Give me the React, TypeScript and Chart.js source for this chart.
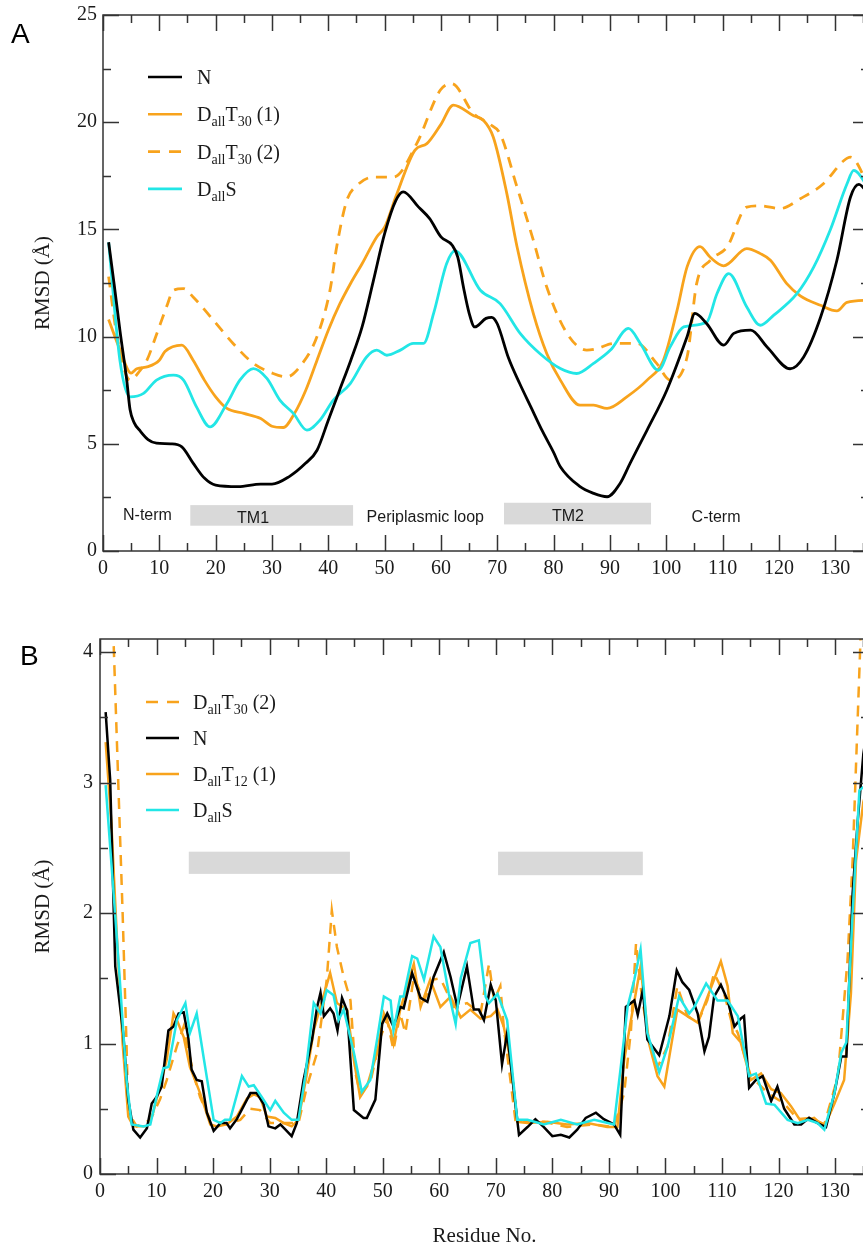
import React, { useEffect, useRef } from 'react';
import { Chart, registerables } from 'chart.js';

Chart.register(...registerables);

// ---------------- Panel A data (residue, RMSD in Å) ----------------
const A_N_RES = [1, 2, 3, 4.2, 4.8, 5.5, 6.6, 8, 9.5, 12, 14, 16, 18, 20, 24, 28, 30, 33, 36, 38, 40, 42, 44, 46, 48, 50, 52, 53.3, 56, 58, 60, 62, 63, 64, 65, 66, 68, 69, 70, 72, 74, 76, 78, 80, 81.2, 84.7, 87, 89.5, 91.8, 93.6, 96.6, 100.1, 103.7, 105.1, 107.2, 110.2, 112, 115, 117.9, 122, 124.4, 127.4, 130.3, 132.7, 134.2, 136];
const A_N_VAL = [14.4, 12.4, 10.3, 8.0, 6.6, 6.0, 5.6, 5.2, 5.03, 5.0, 4.86, 4.1, 3.4, 3.07, 3.0, 3.12, 3.12, 3.46, 4.1, 4.7, 6.1, 7.5, 8.9, 10.45, 12.6, 14.8, 16.35, 16.75, 16.05, 15.5, 14.65, 14.26, 13.7, 12.3, 11.1, 10.45, 10.85, 10.9, 10.6, 9.0, 7.8, 6.7, 5.6, 4.6, 3.93, 3.0, 2.7, 2.53, 3.15, 4.1, 5.64, 7.5, 9.99, 11.08, 10.6, 9.6, 10.15, 10.3, 9.52, 8.5, 9.05, 10.9, 13.56, 16.5, 17.1, 16.6];

const A_T30A_RES = [1, 3, 5, 6, 8, 10, 11, 14, 16, 18, 20, 22, 25, 28, 30, 32, 34, 36, 38, 40, 42, 44, 46, 48.6, 50, 52.1, 55.4, 57.5, 60, 62.2, 65.8, 67.5, 69.3, 71.7, 73.5, 76.4, 78.8, 81.2, 84.7, 87.1, 89.5, 93, 96.6, 99.5, 101.9, 103.7, 106, 107.8, 110.2, 114.3, 116.7, 118.5, 121.4, 123.8, 127.4, 130.3, 132.1, 136];
const A_T30A_VAL = [10.8, 9.4, 8.3, 8.5, 8.6, 8.9, 9.3, 9.6, 8.9, 7.97, 7.19, 6.65, 6.42, 6.18, 5.82, 5.76, 6.42, 7.5, 8.9, 10.3, 11.5, 12.5, 13.4, 14.65, 15.1, 16.6, 18.7, 19.0, 19.9, 20.8, 20.3, 20.1, 19.3, 16.67, 14.2, 11.08, 9.2, 7.97, 6.8, 6.8, 6.65, 7.19, 7.97, 8.9, 11.2, 13.25, 14.2, 13.7, 13.3, 14.1, 13.87, 13.56, 12.47, 11.9, 11.46, 11.2, 11.6, 11.7];

const A_T30B_RES = [1, 2.5, 4.8, 6.6, 7.8, 9.5, 11.3, 12.5, 14.3, 16, 19.6, 23.1, 26.7, 30.2, 32.6, 35.6, 38, 40.3, 41.5, 43.3, 45.1, 48, 51.6, 55.7, 59.9, 61.9, 65.8, 68.7, 70.5, 73.5, 76.4, 78.8, 82.4, 85.9, 87.7, 90.6, 94.8, 98.3, 100.7, 103.7, 105.4, 107.8, 110.8, 114.3, 116.7, 120.2, 123.8, 127.9, 131.5, 132.7, 136];
const A_T30B_VAL = [12.8, 10.0, 7.97, 8.43, 8.9, 10.1, 11.4, 12.16, 12.24, 11.85, 10.76, 9.68, 8.75, 8.28, 8.12, 8.82, 10.0, 12.16, 14.2, 16.36, 17.05, 17.44, 17.44, 19.0, 21.5, 21.8, 20.4, 19.9, 19.46, 16.98, 14.5, 12.3, 10.14, 9.37, 9.44, 9.68, 9.68, 8.75, 7.97, 9.05, 12.47, 13.56, 14.18, 16.04, 16.1, 15.97, 16.43, 17.13, 18.2, 18.37, 17.0];

const A_S_RES = [1, 3, 4.8, 7.2, 9.5, 12.5, 14.3, 16.6, 19, 22, 24.3, 26.7, 29.1, 31.4, 33.8, 36.2, 38.5, 40.9, 43.9, 46.8, 48.6, 50.4, 52.8, 55.1, 56.9, 58.7, 61, 62.5, 67, 70.5, 74.1, 77.6, 81.2, 84.1, 87.1, 90.1, 93.3, 95.4, 98.6, 100.7, 103.1, 107.2, 109, 111.1, 114.3, 116.7, 119.1, 123.2, 126.2, 129.1, 132.1, 133.3, 136];
const A_S_VAL = [14.4, 8.9, 7.19, 7.35, 7.97, 8.2, 7.97, 6.72, 5.79, 6.88, 7.97, 8.51, 8.05, 7.04, 6.42, 5.64, 6.1, 7.04, 7.81, 9.05, 9.37, 9.13, 9.37, 9.68, 9.68, 11.08, 13.4, 14.0, 12.16, 11.54, 10.14, 9.2, 8.51, 8.28, 8.75, 9.37, 10.38, 9.68, 8.43, 9.52, 10.45, 10.68, 12.0, 12.94, 11.38, 10.53, 11.0, 12.0, 13.25, 14.96, 17.13, 17.75, 16.9];

// ---------------- Panel B data ----------------
const B_N_RES = [1, 1.8, 2.7, 4.1, 5, 5.9, 7.1, 8.3, 9.15, 10, 10.9, 12.1, 13, 13.9, 14.8, 15.6, 16.2, 17.1, 18, 18.9, 20.1, 21.3, 22.4, 23, 24.2, 25.4, 26.6, 27.7, 28.9, 29.8, 31, 31.9, 32.8, 33.9, 34.8, 36, 37.5, 38.4, 39, 39.6, 40.7, 41.3, 42, 42.8, 43.7, 44.9, 46.6, 47.2, 48.7, 49.9, 50.8, 51.9, 53.1, 53.7, 55.2, 56.7, 57.9, 59, 60.8, 62, 63.2, 64.9, 66.1, 67, 67.9, 69.1, 70, 71.1, 72, 74.1, 75.6, 77, 78.5, 80, 81.5, 83, 84.4, 85.9, 87.7, 89.1, 90.9, 92, 93, 94.5, 95.1, 96, 96.8, 98.9, 100.7, 102, 103, 104.2, 105.7, 106.9, 107.7, 108.6, 109.8, 111, 112.2, 113.3, 113.9, 114.8, 116, 117.2, 118.7, 119.8, 121, 122.8, 124, 125.4, 126.9, 128.4, 129.9, 131.1, 132, 133.1, 134, 135, 136];
const B_N_VAL = [3.54, 3.02, 1.59, 1.08, 0.57, 0.34, 0.28, 0.35, 0.54, 0.59, 0.67, 1.1, 1.13, 1.23, 1.24, 1.05, 0.8, 0.72, 0.71, 0.47, 0.33, 0.39, 0.39, 0.35, 0.42, 0.52, 0.62, 0.62, 0.54, 0.365, 0.35, 0.38, 0.34, 0.29, 0.39, 0.72, 1.03, 1.28, 1.39, 1.21, 1.27, 1.23, 1.1, 1.35, 1.25, 0.49, 0.43, 0.43, 0.57, 1.15, 1.23, 1.13, 1.28, 1.27, 1.54, 1.35, 1.32, 1.51, 1.7, 1.51, 1.28, 1.59, 1.26, 1.26, 1.18, 1.45, 1.33, 0.84, 1.08, 0.3, 0.36, 0.42, 0.36, 0.29, 0.3, 0.28, 0.34, 0.43, 0.47, 0.42, 0.38, 0.3, 1.28, 1.33, 1.22, 1.41, 1.03, 0.91, 1.21, 1.56, 1.47, 1.41, 1.23, 0.94, 1.05, 1.36, 1.45, 1.33, 1.13, 1.19, 1.21, 0.66, 0.72, 0.75, 0.56, 0.67, 0.5, 0.38, 0.38, 0.43, 0.39, 0.36, 0.62, 0.9, 0.9, 2.15, 2.7, 3.22, 3.5];

const B_T12_RES = [1, 2, 2.95, 4, 5, 5.9, 8.3, 9.4, 10.9, 11.8, 13, 13.6, 14.8, 15.9, 17.7, 19.5, 20.7, 22.4, 24.2, 26, 27.2, 28.3, 29.5, 31, 32.5, 33.9, 35.1, 36.6, 37.8, 39.3, 40.7, 41.9, 43.7, 44.9, 46, 47.2, 49, 50.2, 51.4, 51.9, 53.1, 55.5, 56.7, 58.4, 60.2, 62, 63.8, 65.5, 67.3, 69.1, 70.3, 71.4, 72.6, 73.8, 75.6, 79.1, 82.6, 86.2, 89.7, 91.5, 92.7, 93.9, 95.6, 97.1, 98.6, 99.8, 101, 102.1, 103.9, 105.7, 107.2, 108.6, 109.8, 111, 111.9, 113.3, 115.1, 116.9, 118.7, 120.4, 122.2, 124, 126.3, 128.1, 129.9, 131.6, 132.8, 133.7, 135, 136];
const B_T12_VAL = [3.31, 2.7, 1.85, 1.0, 0.44, 0.365, 0.365, 0.47, 0.72, 0.875, 1.23, 1.18, 1.05, 0.82, 0.62, 0.38, 0.365, 0.38, 0.44, 0.58, 0.61, 0.59, 0.44, 0.43, 0.39, 0.365, 0.415, 0.77, 1.1, 1.33, 1.54, 1.31, 1.26, 0.875, 0.59, 0.67, 0.93, 1.23, 1.1, 1.0, 1.26, 1.61, 1.28, 1.49, 1.28, 1.36, 1.2, 1.26, 1.19, 1.21, 1.26, 1.13, 0.87, 0.4, 0.39, 0.4, 0.38, 0.39, 0.36, 0.36, 0.87, 1.18, 1.59, 1.0, 0.75, 0.67, 0.98, 1.26, 1.21, 1.16, 1.33, 1.49, 1.63, 1.44, 1.08, 1.01, 0.72, 0.77, 0.65, 0.62, 0.52, 0.4, 0.43, 0.36, 0.54, 0.72, 1.38, 2.4, 2.85, 3.0];

const B_T30_RES = [1, 2, 3, 4, 4.7, 5, 6.5, 8.9, 10.6, 11.8, 13.6, 14.8, 16.5, 17.7, 19.5, 22.4, 24.8, 26.6, 28.3, 30.1, 33, 35.1, 36.6, 38.4, 40.1, 41, 41.9, 43.1, 44.3, 45.2, 46, 47.8, 49.6, 50.8, 51.9, 53.1, 54, 55.5, 57.3, 59, 60.2, 62.6, 64.9, 67.3, 68.8, 69.7, 70.8, 71.4, 73.5, 78.5, 82.6, 87.4, 90.9, 92.7, 93.9, 94.8, 95.6, 96.8, 98.6, 100.4, 102.1, 103.9, 105.7, 107.4, 108.6, 110.4, 111.6, 112.8, 115.1, 118.1, 121, 123.4, 125.8, 128.1, 130.5, 132.2, 133.1, 134.5, 135];
const B_T30_VAL = [5.5, 4.6, 3.3, 2.0, 0.98, 0.47, 0.365, 0.415, 0.57, 0.72, 0.98, 1.13, 0.77, 0.59, 0.415, 0.38, 0.415, 0.5, 0.49, 0.39, 0.39, 0.39, 0.67, 0.93, 1.49, 2.02, 1.74, 1.51, 1.33, 0.77, 0.62, 0.7, 1.05, 1.18, 0.95, 1.23, 1.08, 1.51, 1.33, 1.49, 1.5, 1.28, 1.31, 1.23, 1.61, 1.33, 1.44, 1.13, 0.4, 0.4, 0.36, 0.38, 0.36, 0.62, 1.1, 1.77, 1.44, 1.08, 0.82, 0.98, 1.44, 1.21, 1.16, 1.33, 1.54, 1.38, 1.18, 1.08, 0.75, 0.62, 0.54, 0.42, 0.43, 0.38, 0.75, 1.64, 2.4, 4.1, 4.6];

const B_S_RES = [1, 2.66, 3.5, 4.7, 5.6, 7.7, 8.9, 10, 11.2, 12.1, 13.6, 15.1, 15.9, 17.1, 18.3, 20.1, 21.3, 22.1, 23, 25.1, 26.3, 27.2, 28.6, 30.1, 31, 32.5, 33.9, 35.1, 36.3, 37.8, 39, 40.1, 41.3, 42.2, 43.1, 44.9, 46.3, 47.8, 49, 50.2, 51.4, 51.9, 53.1, 53.7, 55.2, 56.1, 57.3, 59, 60.2, 61.7, 62.9, 63.8, 65.5, 67, 68.2, 68.8, 70.3, 72, 73.8, 75.6, 78.5, 81.5, 84.4, 87.4, 90.9, 92.1, 93.3, 94.5, 95.6, 96.8, 98.9, 100.4, 102.4, 104.2, 105.1, 107.2, 109.2, 111, 112.8, 114.8, 116, 117.8, 119.3, 121.6, 123.4, 125.2, 126.9, 128.1, 129.9, 131.1, 132, 133.1, 134.3, 136];
const B_S_VAL = [2.98, 2.0, 1.49, 0.72, 0.38, 0.365, 0.38, 0.59, 0.81, 0.82, 1.18, 1.31, 1.08, 1.23, 0.9, 0.415, 0.39, 0.415, 0.415, 0.75, 0.67, 0.68, 0.59, 0.49, 0.56, 0.47, 0.415, 0.415, 0.75, 1.31, 1.23, 1.41, 1.37, 1.18, 1.26, 0.93, 0.63, 0.72, 1.03, 1.36, 1.33, 1.1, 1.36, 1.36, 1.67, 1.65, 1.49, 1.82, 1.74, 1.38, 1.15, 1.5, 1.77, 1.79, 1.36, 1.31, 1.38, 1.18, 0.415, 0.415, 0.38, 0.415, 0.38, 0.415, 0.38, 0.82, 1.28, 1.49, 1.72, 1.08, 0.78, 0.98, 1.36, 1.23, 1.28, 1.46, 1.33, 1.33, 1.21, 0.75, 0.77, 0.54, 0.53, 0.415, 0.39, 0.415, 0.39, 0.34, 0.62, 0.93, 1.01, 2.0, 2.94, 3.0];

// ---------------- labels / annotations ----------------
const A_LEGEND = ['N', 'D_{all}T_{30} (1)', 'D_{all}T_{30} (2)', 'D_{all}S'];
const B_LEGEND = ['D_{all}T_{30} (2)', 'N', 'D_{all}T_{12} (1)', 'D_{all}S'];
const A_REGION_TEXT = ['N-term', 'TM1', 'Periplasmic loop', 'TM2', 'C-term'];
const A_REGION_AT = [[3.55, 1.43], [23.8, 1.3], [46.8, 1.33], [79.7, 1.39], [104.5, 1.33]];
const A_BOXES = [[15.5, 44.4, 1.18, 2.14], [71.2, 97.3, 1.24, 2.25]];
const B_BOXES = [[15.7, 44.2, 2.3, 2.47], [70.4, 96.0, 2.29, 2.47]];

const X_MAX = 136;
const SERIF = '"Liberation Serif", "Times New Roman", Times, serif';
const SANS = '"Liberation Sans", Arial, Helvetica, sans-serif';
const BLACK = '#000000';
const ORANGE = '#f8a31c';
const CYAN = '#22e6e6';
const AXIS = '#333333';
const TEXT = '#1a1a1a';
const DASH = [11, 8];

const pts = (r: number[], v: number[]) => r.map((x, i) => ({ x, y: v[i] }));

type Seg = { text: string; sub: boolean };
function parseLabel(s: string): Seg[] {
  const out: Seg[] = [];
  let buf = '';
  let i = 0;
  while (i < s.length) {
    if (s[i] === '_' && s[i + 1] === '{') {
      if (buf) out.push({ text: buf, sub: false });
      buf = '';
      const j = s.indexOf('}', i);
      out.push({ text: s.slice(i + 2, j), sub: true });
      i = j + 1;
    } else {
      buf += s[i];
      i++;
    }
  }
  if (buf) out.push({ text: buf, sub: false });
  return out;
}

function drawRich(ctx: CanvasRenderingContext2D, s: string, x: number, y: number) {
  let cx = x;
  for (const seg of parseLabel(s)) {
    ctx.font = `${seg.sub ? 14 : 20}px ${SERIF}`;
    ctx.fillText(seg.text, cx, seg.sub ? y + 5 : y);
    cx += ctx.measureText(seg.text).width;
  }
}

type DecorCfg = {
  id: string;
  letter: string;
  letterX: number;
  letterY: number;
  legend: string[];
  legendColors: string[];
  legendDash: boolean[];
  lx1: number;
  lx2: number;
  tx: number;
  ly0: number;
  ldy: number;
  boxes: number[][];
  regions: string[];
  regionAt: number[][];
  yMinor: number;
  yMajor: number;
  yMax: number;
};

function makeDecor(cfg: DecorCfg) {
  return {
    id: cfg.id,
    beforeDatasetsDraw(chart: any) {
      const { ctx, scales } = chart;
      const x = scales.x;
      const y = scales.y;
      ctx.save();
      ctx.fillStyle = '#d9d9d9';
      for (const b of cfg.boxes) {
        const x0 = x.getPixelForValue(b[0]);
        const x1 = x.getPixelForValue(b[1]);
        const y0 = y.getPixelForValue(b[3]);
        const y1 = y.getPixelForValue(b[2]);
        ctx.fillRect(x0, y0, x1 - x0, y1 - y0);
      }
      ctx.restore();
    },
    afterDatasetsDraw(chart: any) {
      const { ctx, chartArea: a, scales } = chart;
      const x = scales.x;
      const y = scales.y;
      ctx.save();
      // frame
      ctx.strokeStyle = AXIS;
      ctx.lineWidth = 1.5;
      ctx.strokeRect(a.left, a.top, a.right - a.left, a.bottom - a.top);
      // inward ticks on all four sides
      ctx.beginPath();
      for (let v = 0; v <= X_MAX; v += 5) {
        const px = Math.round(x.getPixelForValue(v)) + 0.5;
        const L = v % 10 === 0 ? 16 : 8;
        ctx.moveTo(px, a.bottom);
        ctx.lineTo(px, a.bottom - L);
        ctx.moveTo(px, a.top);
        ctx.lineTo(px, a.top + L);
      }
      const n = Math.round(cfg.yMax / cfg.yMinor);
      for (let k = 0; k <= n; k++) {
        const v = k * cfg.yMinor;
        const py = Math.round(y.getPixelForValue(v)) + 0.5;
        const major = Math.abs(v / cfg.yMajor - Math.round(v / cfg.yMajor)) < 1e-6;
        const L = major ? 16 : 8;
        ctx.moveTo(a.left, py);
        ctx.lineTo(a.left + L, py);
        ctx.moveTo(a.right, py);
        ctx.lineTo(a.right - L, py);
      }
      ctx.stroke();

      // region labels
      ctx.fillStyle = TEXT;
      ctx.textBaseline = 'alphabetic';
      ctx.textAlign = 'left';
      ctx.font = `16px ${SANS}`;
      cfg.regions.forEach((t, i) => {
        ctx.fillText(t, x.getPixelForValue(cfg.regionAt[i][0]), y.getPixelForValue(cfg.regionAt[i][1]));
      });

      // legend
      cfg.legend.forEach((lab, i) => {
        const ly = cfg.ly0 + i * cfg.ldy;
        ctx.beginPath();
        ctx.strokeStyle = cfg.legendColors[i];
        ctx.lineWidth = 2.6;
        ctx.setLineDash(cfg.legendDash[i] ? [12, 9] : []);
        ctx.moveTo(cfg.lx1, ly);
        ctx.lineTo(cfg.lx2, ly);
        ctx.stroke();
        ctx.setLineDash([]);
        ctx.fillStyle = TEXT;
        drawRich(ctx, lab, cfg.tx, ly + 7);
      });

      // panel letter
      ctx.font = `28px ${SANS}`;
      ctx.fillStyle = '#000';
      ctx.fillText(cfg.letter, cfg.letterX, cfg.letterY);
      ctx.restore();
    },
  };
}

function lineDs(label: string, data: any[], color: string, dashed: boolean, width: number, order: number, smooth: boolean) {
  return {
    label,
    data,
    borderColor: color,
    backgroundColor: color,
    borderWidth: width,
    borderDash: dashed ? DASH : [],
    pointRadius: 0,
    fill: false,
    tension: smooth ? 0.4 : 0,
    cubicInterpolationMode: smooth ? 'monotone' : 'default',
    order,
    clip: 0,
  };
}

const tickEvery = (step: number) => (v: any) => {
  const n = Number(v);
  return Math.abs(n / step - Math.round(n / step)) < 1e-6 ? String(Math.round(n * 100) / 100) : '';
};

function axisCommon(yStep: number, yMax: number, yWidth: number, yPad: number, titlePad: number, xHeight: number, xTitle: boolean) {
  return {
    x: {
      type: 'linear',
      min: 0,
      max: X_MAX,
      bounds: 'data',
      grid: { display: false, drawTicks: false },
      border: { display: false },
      ticks: {
        stepSize: 10,
        includeBounds: false,
        padding: 6,
        color: TEXT,
        font: { family: SERIF, size: 20 },
        maxRotation: 0,
        autoSkip: false,
        callback: tickEvery(10),
      },
      title: xTitle
        ? { display: true, text: 'Residue No.', color: TEXT, font: { family: SERIF, size: 21 }, padding: { top: 0, bottom: 1 } }
        : { display: false },
      afterFit: (s: any) => {
        s.height = xHeight;
        s.paddingLeft = 0;
        s.paddingRight = 0;
      },
    },
    y: {
      type: 'linear',
      min: 0,
      max: yMax,
      bounds: 'data',
      grid: { display: false, drawTicks: false },
      border: { display: false },
      ticks: {
        stepSize: yStep,
        includeBounds: false,
        padding: yPad,
        color: TEXT,
        font: { family: SERIF, size: 20 },
        autoSkip: false,
        callback: tickEvery(yStep),
      },
      title: { display: true, text: 'RMSD (Å)', color: TEXT, font: { family: SERIF, size: 21 }, padding: { top: titlePad, bottom: 0 } },
      afterFit: (s: any) => {
        s.width = yWidth;
        s.paddingTop = 0;
        s.paddingBottom = 0;
      },
    },
  };
}

function configA(): any {
  return {
    type: 'line',
    data: {
      datasets: [
        lineDs('N', pts(A_N_RES, A_N_VAL), BLACK, false, 2.8, 0, true),
        lineDs('DallT30(1)', pts(A_T30A_RES, A_T30A_VAL), ORANGE, false, 2.8, 2, true),
        lineDs('DallT30(2)', pts(A_T30B_RES, A_T30B_VAL), ORANGE, true, 2.8, 3, true),
        lineDs('DallS', pts(A_S_RES, A_S_VAL), CYAN, false, 2.8, 1, true),
      ],
    },
    options: {
      animation: false,
      responsive: false,
      devicePixelRatio: 1,
      layout: { padding: { top: 15, right: 11, bottom: 0, left: 0 } },
      plugins: { legend: { display: false }, tooltip: { enabled: false } },
      scales: axisCommon(5, 25, 103, 6, 31, 49, false),
    },
    plugins: [
      makeDecor({
        id: 'decorA',
        letter: 'A',
        letterX: 11,
        letterY: 43,
        legend: A_LEGEND,
        legendColors: [BLACK, ORANGE, ORANGE, CYAN],
        legendDash: [false, false, true, false],
        lx1: 148,
        lx2: 182,
        tx: 197,
        ly0: 77,
        ldy: 37.3,
        boxes: A_BOXES,
        regions: A_REGION_TEXT,
        regionAt: A_REGION_AT,
        yMinor: 2.5,
        yMajor: 5,
        yMax: 25,
      }),
    ],
  };
}

function configB(): any {
  return {
    type: 'line',
    data: {
      datasets: [
        lineDs('DallT30(2)', pts(B_T30_RES, B_T30_VAL), ORANGE, true, 2.5, 3, false),
        lineDs('N', pts(B_N_RES, B_N_VAL), BLACK, false, 2.5, 1, false),
        lineDs('DallT12(1)', pts(B_T12_RES, B_T12_VAL), ORANGE, false, 2.5, 2, false),
        lineDs('DallS', pts(B_S_RES, B_S_VAL), CYAN, false, 2.5, 0, false),
      ],
    },
    options: {
      animation: false,
      responsive: false,
      devicePixelRatio: 1,
      layout: { padding: { top: 39, right: 11, bottom: 0, left: 0 } },
      plugins: { legend: { display: false }, tooltip: { enabled: false } },
      scales: axisCommon(1, 4.1, 100, 7, 31, 76, true),
    },
    plugins: [
      makeDecor({
        id: 'decorB',
        letter: 'B',
        letterX: 20,
        letterY: 65,
        legend: B_LEGEND,
        legendColors: [ORANGE, BLACK, ORANGE, CYAN],
        legendDash: [true, false, false, false],
        lx1: 146,
        lx2: 179,
        tx: 193,
        ly0: 102,
        ldy: 36,
        boxes: B_BOXES,
        regions: [],
        regionAt: [],
        yMinor: 0.5,
        yMajor: 1,
        yMax: 4.1,
      }),
    ],
  };
}

function Panel({ make, top, height }: { make: () => any; top: number; height: number }) {
  const ref = useRef<HTMLCanvasElement>(null);
  useEffect(() => {
    const chart = new Chart(ref.current as HTMLCanvasElement, make());
    return () => chart.destroy();
  }, []);
  return (
    <canvas
      ref={ref}
      width={880}
      height={height}
      style={{ position: 'absolute', left: 0, top, width: 880, height, display: 'block' }}
    />
  );
}

export default function App() {
  return (
    <div
      style={{
        position: 'fixed',
        left: 0,
        top: 0,
        width: 863,
        height: 1245,
        overflow: 'hidden',
        background: '#ffffff',
      }}
    >
      <Panel make={configA} top={0} height={600} />
      <Panel make={configB} top={600} height={650} />
    </div>
  );
}
